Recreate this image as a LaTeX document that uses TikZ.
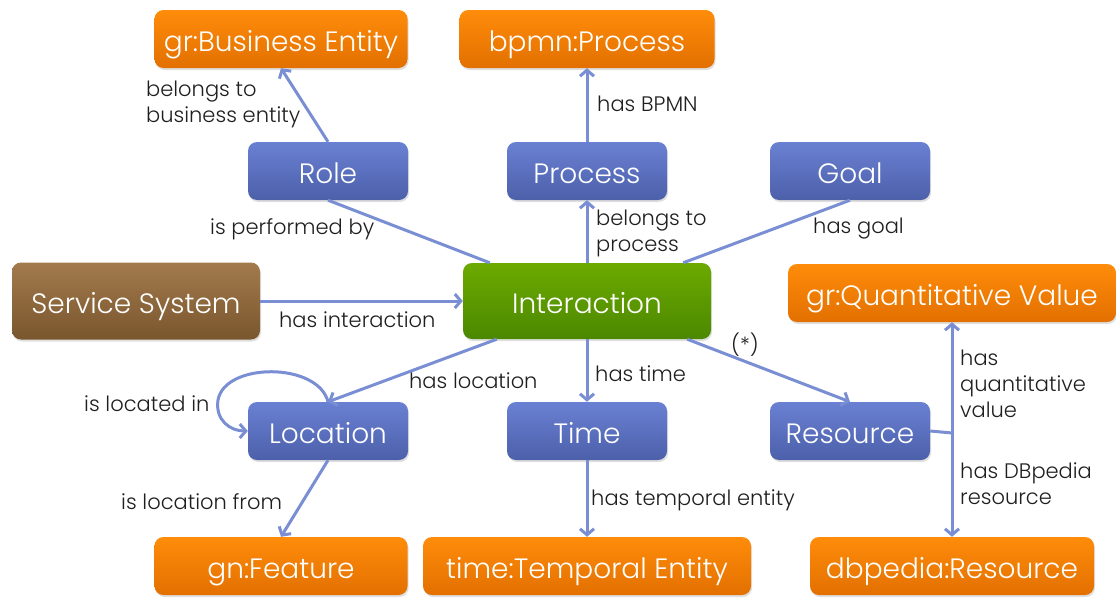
\documentclass[tikz,border=0pt]{standalone}
\usepackage{fontspec}
\setmainfont{Poppins Light}
\usetikzlibrary{arrows.meta,shadows}

\definecolor{relblue}{RGB}{122,142,212}
\definecolor{ontotop}{RGB}{255,140,10}
\definecolor{ontobot}{RGB}{226,112,0}
\definecolor{clstop}{RGB}{106,128,210}
\definecolor{clsbot}{RGB}{76,96,170}
\definecolor{coretop}{RGB}{108,170,0}
\definecolor{corebot}{RGB}{76,136,0}
\definecolor{systop}{RGB}{162,122,76}
\definecolor{sysbot}{RGB}{122,86,46}

\tikzset{
  box/.style={rounded corners=9pt, minimum height=58pt, inner sep=0pt, text=white,
    font=\fontsize{28}{30}\selectfont, text height=26pt, text depth=2pt,
    drop shadow={shadow xshift=1pt, shadow yshift=-2pt, opacity=.25}},
  onto/.style={box, top color=ontotop, bottom color=ontobot},
  cls/.style={box, top color=clstop, bottom color=clsbot, minimum width=160pt},
  link/.style={draw=relblue, line width=3pt},
  rel/.style={link, -{Straight Barb[length=6pt,width=14pt]}},
  lbl/.style={font=\fontsize{21}{26}\selectfont, text=black!88, inner sep=0pt,
    anchor=west, align=left},
}

\begin{document}
\begin{tikzpicture}[x=1pt,y=-1pt]
\useasboundingbox (0,0) rectangle (1116,597);

% ontologies
\node[onto, minimum width=253pt] (be) at (281,39) {gr:Business Entity};
\node[onto, minimum width=255pt] (bpmn) at (587,39) {bpmn:Process};
\node[onto, minimum width=328pt] (qv) at (952,293) {gr:Quantitative Value};
\node[onto, minimum width=253pt] (feat) at (281,566) {gn:Feature};
\node[onto, minimum width=328pt] (temp) at (587,566) {time:Temporal Entity};
\node[onto, minimum width=284pt] (db) at (952,566) {dbpedia:Resource};

% classes
\node[cls] (role) at (328,171) {Role};
\node[cls] (proc) at (587,171) {Process};
\node[cls] (goal) at (850,171) {Goal};
\node[cls] (loc) at (328,431) {Location};
\node[cls] (time) at (587,431) {Time};
\node[cls] (res) at (850,431) {Resource};

\node[box, top color=systop, bottom color=sysbot, minimum width=248pt, minimum height=77pt] (sys) at (136,301) {Service System};
\node[box, top color=coretop, bottom color=corebot, minimum width=248pt, minimum height=76pt] (inter) at (587,301) {Interaction};

\coordinate (junc) at (952,433);

% relations
\draw[rel] (role.north) -- (be.south);
\draw[rel] (proc) -- (bpmn);
\draw[link] ([xshift=27pt]inter.north west) -- (role.south);
\draw[rel] (inter) -- (proc);
\draw[link] ([xshift=-28pt]inter.north east) -- (goal.south);
\draw[rel] (sys) -- (inter);
\draw[rel] ([xshift=34pt]inter.south west) -- (loc.north);
\draw[rel] (loc.north) .. controls (318,362) and (225,362) .. (218,400)
  .. controls (215,420) and (230,431) .. (loc.west);
\draw[rel] (inter) -- (time);
\draw[rel] ([xshift=-24pt]inter.south east) -- (res.north);
\draw[link] (res.east) -- (junc);
\draw[rel] (junc) -- (qv);
\draw[rel] (junc) -- (db);
\draw[rel] (loc.south) -- (feat.north);
\draw[rel] (time) -- (temp);

% labels
\node[lbl] (l-be) at (146,104) {belongs to\\business entity};
\node[lbl] (l-bpmn) at (597,104) {has BPMN};
\node[lbl] (l-role) at (210,229) {is performed by};
\node[lbl] (l-proc) at (596,233) {belongs to\\process};
\node[lbl] (l-goal) at (813,229) {has goal};
\node[lbl] (l-sys) at (279,320) {has interaction};
\node[lbl] (l-loc) at (409,381) {has location};
\node[lbl] (l-time) at (595,374) {has time};
\node[lbl] (l-res) at (731,345) {(*)};
\node[lbl] (l-self) at (84,404) {is located in};
\node[lbl] (l-qv) at (960,384) {has\\quantitative\\value};
\node[lbl] (l-db) at (960,484) {has DBpedia\\resource};
\node[lbl] (l-feat) at (121,502) {is location from};
\node[lbl] (l-temp) at (591,500) {has temporal entity};

\end{tikzpicture}
\end{document}
